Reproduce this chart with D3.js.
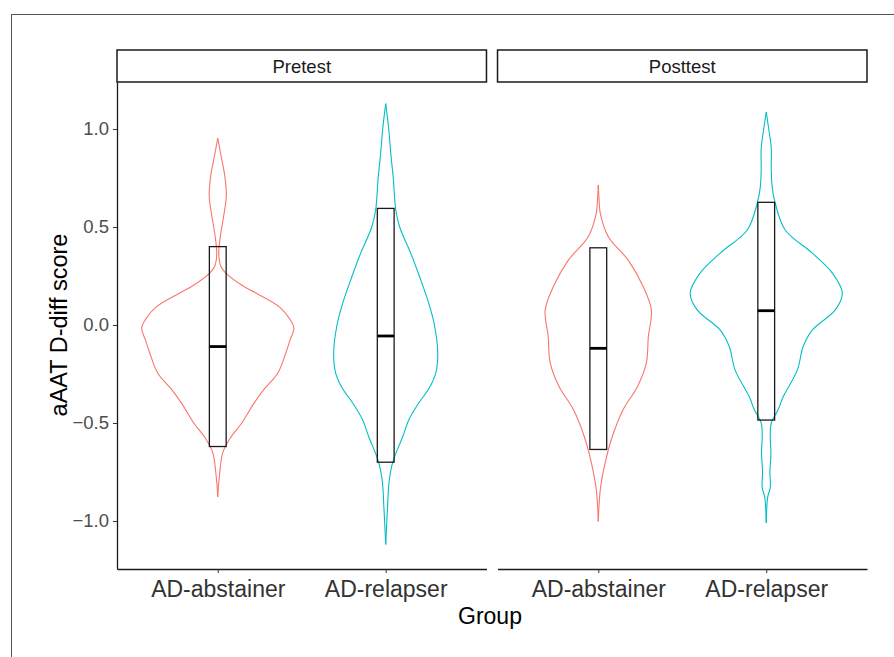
<!DOCTYPE html>
<html>
<head>
<meta charset="utf-8">
<script src="https://cdn.jsdelivr.net/npm/d3@7"></script>
<style>
body { margin: 0; background: #fff; }
text { font-family: "Liberation Sans", Arial, sans-serif; }
</style>
</head>
<body>
<div id="chart"></div>
<script>
var panels = ["Pretest", "Posttest"];
var groups = ["AD-abstainer", "AD-relapser"];
var groupColors = ["#F8766D", "#00BFC4"];
var yTicks = [-1.0, -0.5, 0.0, 0.5, 1.0];

// violin outlines: [score, half width as a fraction of the group spacing]
var preAbstainer = [[0.954,0],[0.87,0.018],[0.76,0.042],[0.66,0.051],[0.56,0.036],[0.45,0.015],[0.36,0.006],[0.30,0.018],[0.265,0.048],[0.2,0.149],[0.163,0.227],[0.09,0.37],[0.03,0.429],[-0.015,0.453],[-0.08,0.429],[-0.143,0.405],[-0.245,0.358],[-0.33,0.274],[-0.4,0.215],[-0.5,0.143],[-0.58,0.072],[-0.65,0.03],[-0.75,0.012],[-0.877,0]];
var preRelapser = [[1.13,0],[1.0,0.018],[0.877,0.03],[0.75,0.045],[0.587,0.06],[0.5,0.083],[0.367,0.149],[0.25,0.2],[0.112,0.256],[0.0,0.29],[-0.143,0.31],[-0.245,0.298],[-0.32,0.26],[-0.398,0.197],[-0.48,0.14],[-0.57,0.101],[-0.70,0.042],[-0.8,0.02],[-0.91,0.012],[-1.12,0]];
var postAbstainer = [[0.714,0],[0.62,0.006],[0.57,0.012],[0.45,0.06],[0.33,0.179],[0.195,0.268],[0.077,0.316],[-0.06,0.298],[-0.195,0.286],[-0.315,0.233],[-0.43,0.149],[-0.57,0.083],[-0.70,0.042],[-0.84,0.012],[-1.003,0]];
var postRelapser = [[1.087,0],[1.0,0.015],[0.9,0.03],[0.79,0.03],[0.7,0.036],[0.62,0.054],[0.485,0.113],[0.367,0.274],[0.265,0.394],[0.163,0.453],[0.077,0.411],[-0.026,0.274],[-0.11,0.22],[-0.23,0.185],[-0.366,0.101],[-0.43,0.072],[-0.50,0.03],[-0.57,0.024],[-0.65,0.028],[-0.75,0.022],[-0.83,0.024],[-0.877,0.009],[-1.01,0]];

// box stats in order pre-abstainer, pre-relapser, post-abstainer, post-relapser
var boxUpper = [0.40, 0.595, 0.394, 0.626];
var boxMedian = [-0.11, -0.056, -0.119, 0.073];
var boxLower = [-0.62, -0.70, -0.635, -0.485];

var violins = [preAbstainer, preRelapser, postAbstainer, postRelapser];

var W = 894, H = 657;
var plotLeft = 117, plotRight = 867, stripTop = 50, stripBottom = 82, plotBottom = 569;

var svg = d3.select("#chart").append("svg")
    .attr("width", W)
    .attr("height", H);

svg.append("rect").attr("width", W).attr("height", H).attr("fill", "#fff");
// outer frame
svg.append("rect")
    .attr("x", 11.5).attr("y", 14.5)
    .attr("width", 1000).attr("height", 1000)
    .attr("fill", "none").attr("stroke", "#555").attr("stroke-width", 1);

var facet = d3.scaleBand()
    .domain(panels)
    .range([plotLeft, plotRight])
    .paddingInner(0.029);

var y = d3.scaleLinear()
    .domain([-1.245, 1.24])
    .range([plotBottom, stripBottom]);

panels.forEach(function(p, pi) {
  var x0 = facet(p);
  var x = d3.scalePoint()
      .domain(groups)
      .range([x0, x0 + facet.bandwidth()])
      .padding(0.6);
  var step = x.step();
  var g = svg.append("g");

  // strip
  g.append("rect")
      .attr("x", x0).attr("y", stripTop)
      .attr("width", facet.bandwidth()).attr("height", stripBottom - stripTop)
      .attr("fill", "#fff").attr("stroke", "#1a1a1a").attr("stroke-width", 1.5);
  g.append("text")
      .attr("x", x0 + facet.bandwidth() / 2)
      .attr("y", (stripTop + stripBottom) / 2)
      .attr("dy", "0.36em")
      .attr("text-anchor", "middle")
      .attr("font-size", 18.5)
      .attr("fill", "#1a1a1a")
      .text(p);

  groups.forEach(function(gr, gi) {
    var idx = pi * 2 + gi;
    var cx = x(gr);
    var pts = violins[idx];
    var right = d3.line()
        .x(function(d) { return cx + d[1] * step; })
        .y(function(d) { return y(d[0]); })
        .curve(d3.curveCatmullRom.alpha(0.5));
    var left = d3.line()
        .x(function(d) { return cx - d[1] * step; })
        .y(function(d) { return y(d[0]); })
        .curve(d3.curveCatmullRom.alpha(0.5));
    g.append("path").attr("d", right(pts))
        .attr("fill", "none").attr("stroke", groupColors[gi]).attr("stroke-width", 1.1);
    g.append("path").attr("d", left(pts))
        .attr("fill", "none").attr("stroke", groupColors[gi]).attr("stroke-width", 1.1);

    var bw = 0.1 * step;
    g.append("rect")
        .attr("x", cx - bw / 2)
        .attr("y", y(boxUpper[idx]))
        .attr("width", bw)
        .attr("height", y(boxLower[idx]) - y(boxUpper[idx]))
        .attr("fill", "none").attr("stroke", "#1a1a1a").attr("stroke-width", 1.3);
    g.append("line")
        .attr("x1", cx - bw / 2).attr("x2", cx + bw / 2)
        .attr("y1", y(boxMedian[idx])).attr("y2", y(boxMedian[idx]))
        .attr("stroke", "#000").attr("stroke-width", 2.8);
  });

  // x axis
  var xa = g.append("g")
      .attr("transform", "translate(0," + plotBottom + ")")
      .call(d3.axisBottom(x).tickSize(4).tickSizeOuter(0));
  xa.select(".domain").attr("stroke", "#1a1a1a").attr("stroke-width", 1.3);
  xa.selectAll(".tick line").attr("stroke", "#333");
  xa.selectAll(".tick text")
      .attr("font-family", "Liberation Sans, Arial, sans-serif")
      .attr("font-size", 23).attr("fill", "#333").attr("dy", "0.95em").attr("y", 6);

  if (pi === 0) {
    var ya = g.append("g")
        .attr("transform", "translate(" + x0 + ",0)")
        .call(d3.axisLeft(y).tickValues(yTicks).tickFormat(d3.format(".1f")).tickSize(4).tickSizeOuter(0));
    ya.select(".domain").attr("stroke", "#1a1a1a").attr("stroke-width", 1.3);
    ya.selectAll(".tick line").attr("stroke", "#333");
    ya.selectAll(".tick text")
        .attr("font-family", "Liberation Sans, Arial, sans-serif")
        .attr("font-size", 18.5).attr("fill", "#4d4d4d").attr("x", -8);
  }
});

svg.append("text")
    .attr("x", 490).attr("y", 624)
    .attr("text-anchor", "middle")
    .attr("font-size", 23).attr("fill", "#000")
    .text("Group");

svg.append("text")
    .attr("transform", "translate(67," + y(0) + ") rotate(-90)")
    .attr("text-anchor", "middle")
    .attr("font-size", 23.5).attr("fill", "#000")
    .text("aAAT D-diff score");
</script>
</body>
</html>
